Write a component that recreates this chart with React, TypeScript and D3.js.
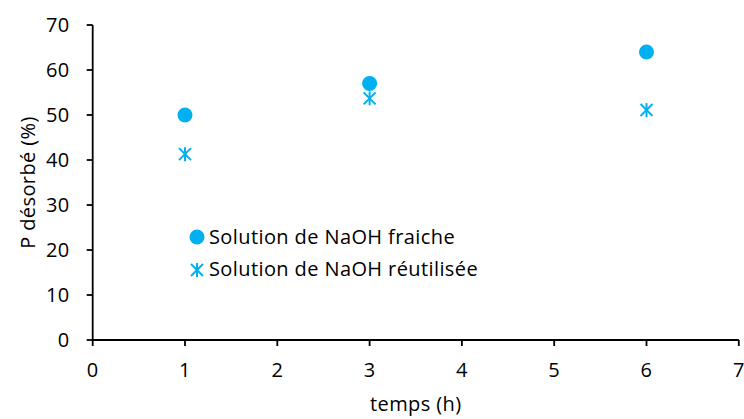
import React from "react";
import * as d3 from "d3";

const times = [1, 3, 6];
const fresh = [50, 57, 64];
const reused = [41.3, 53.7, 51.1];
const xTicks = [0, 1, 2, 3, 4, 5, 6, 7];
const yTicks = [0, 10, 20, 30, 40, 50, 60, 70];
const seriesNames = ["Solution de NaOH fraiche", "Solution de NaOH réutilisée"];
const xTitle = "temps (h)";
const yTitle = "P désorbé (%)";

const W = 744;
const H = 419;
const color = "#00B0F0";
const font = "'Open Sans', Lato, sans-serif";
const fs = 20;
const ls = 0.4;

function Star({ x, y, s }: { x: number; y: number; s: number }) {
  const h = s / 2;
  return (
    <g stroke={color} strokeWidth={2} fill="none">
      <line x1={x - h} y1={y - h} x2={x + h} y2={y + h} />
      <line x1={x - h} y1={y + h} x2={x + h} y2={y - h} />
      <line x1={x} y1={y - h - 1} x2={x} y2={y + h + 1} />
    </g>
  );
}

export default function App() {
  const x = d3.scaleLinear().domain([0, 7]).range([92.7, 738.8]);
  const y = d3.scaleLinear().domain([0, 70]).range([340, 25]);
  return (
    <svg width={W} height={H} style={{ position: "absolute", left: 0, top: 0 }}>
      <rect width={W} height={H} fill="#fff" />
      <g stroke="#000" strokeWidth={1.8}>
        <line x1={x(0)} y1={y(0)} x2={x(7)} y2={y(0)} />
        <line x1={x(0)} y1={y(0)} x2={x(0)} y2={y(70)} />
        {yTicks.map((t) => (
          <line key={"yt" + t} x1={x(0) - 6} x2={x(0)} y1={y(t)} y2={y(t)} />
        ))}
        {xTicks.map((t) => (
          <line key={"xt" + t} x1={x(t)} x2={x(t)} y1={y(0)} y2={y(0) + 6} />
        ))}
      </g>
      <g fontFamily={font} fontSize={fs} letterSpacing={ls} fill="#000">
        {yTicks.map((t) => (
          <text key={"yl" + t} x={x(0) - 23} y={y(t)} dy="0.36em" textAnchor="end">
            {t}
          </text>
        ))}
        {xTicks.map((t) => (
          <text key={"xl" + t} x={x(t)} y={y(0) + 37} textAnchor="middle">
            {t}
          </text>
        ))}
        <text x={(x(0) + x(7)) / 2} y={411} textAnchor="middle">
          {xTitle}
        </text>
        <text
          transform={`translate(35,${(y(0) + y(70)) / 2}) rotate(-90)`}
          textAnchor="middle"
        >
          {yTitle}
        </text>
      </g>
      {times.map((t, i) => (
        <circle key={"f" + i} cx={x(t)} cy={y(fresh[i])} r={7.5} fill={color} />
      ))}
      {times.map((t, i) => (
        <Star key={"r" + i} x={x(t)} y={y(reused[i])} s={12} />
      ))}
      <circle cx={197} cy={237} r={7.5} fill={color} />
      <Star x={197} y={270} s={12} />
      <g fontFamily={font} fontSize={fs} letterSpacing={ls} fill="#000">
        <text x={209} y={243.5}>{seriesNames[0]}</text>
        <text x={209} y={276}>{seriesNames[1]}</text>
      </g>
    </svg>
  );
}
